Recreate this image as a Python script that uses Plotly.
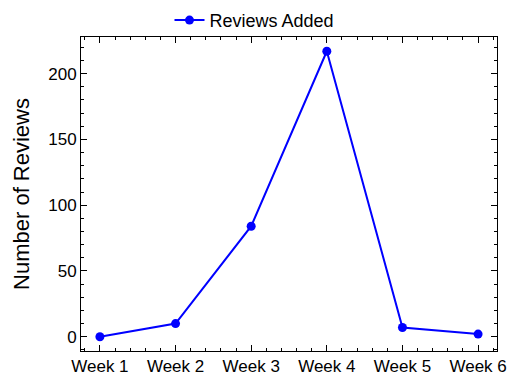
import plotly.graph_objects as go

weeks = ["Week 1", "Week 2", "Week 3", "Week 4", "Week 5", "Week 6"]
reviews = [0, 10, 84, 217, 7, 2]
series_name = "Reviews Added"
y_title = "Number of Reviews"

xpos = list(range(len(weeks)))
xrange_ = [-0.25, 5.25]
yrange_ = [-10.85, 227.85]

fig = go.Figure()
fig.add_trace(go.Scatter(
    x=xpos, y=reviews, mode="lines+markers", name=series_name,
    line=dict(color="#0000ff", width=2),
    marker=dict(color="#0000ff", size=9),
))

font = "Liberation Sans, Arial, sans-serif"
axis_common = dict(
    showgrid=False, zeroline=False, showline=True, linecolor="black", linewidth=1,
    mirror="allticks", ticks="inside", ticklen=6, tickwidth=1, tickcolor="black",
    tickfont=dict(family=font, size=17, color="black"), automargin=False,
)
xminor = dict(ticks="inside", ticklen=3, tickwidth=1, tickcolor="black", dtick=0.2, tick0=0, showgrid=False)
yminor = dict(ticks="inside", ticklen=3, tickwidth=1, tickcolor="black", dtick=10, tick0=0, showgrid=False)
fig.update_layout(
    xaxis=dict(**axis_common, range=xrange_, tickmode="array", tickvals=xpos, ticktext=weeks, minor=xminor),
    yaxis=dict(**axis_common, range=yrange_, dtick=50, tick0=0, minor=yminor,
               title=dict(text=y_title, font=dict(family=font, size=22, color="black"), standoff=12)),
    xaxis2=dict(overlaying="x", side="top", range=xrange_, showgrid=False, zeroline=False,
                showticklabels=False, ticks="inside", ticklen=6, tickcolor="black",
                tickmode="array", tickvals=xpos, minor=xminor, automargin=False),
    yaxis2=dict(overlaying="y", side="right", range=yrange_, showgrid=False, zeroline=False,
                showticklabels=False, ticks="inside", ticklen=6, tickcolor="black",
                dtick=50, tick0=0, minor=yminor, automargin=False),
)
# invisible helper trace to activate the mirrored tick axes
fig.add_trace(go.Scatter(x=[None], y=[None], xaxis="x2", yaxis="y2", showlegend=False, hoverinfo="skip"))

fig.update_layout(
    width=509, height=374,
    margin=dict(l=81, r=12, t=37, b=23, autoexpand=False),
    plot_bgcolor="white", paper_bgcolor="white",
    showlegend=True,
    legend=dict(orientation="h", x=0.5, xanchor="center", xref="container",
                y=0.995, yanchor="top", yref="container",
                font=dict(family=font, size=18, color="black"), bgcolor="rgba(0,0,0,0)"),
)
fig.write_html("out.html", config={"displayModeBar": False},
               post_script="document.body.style.margin='0';document.body.style.overflow='hidden';")
